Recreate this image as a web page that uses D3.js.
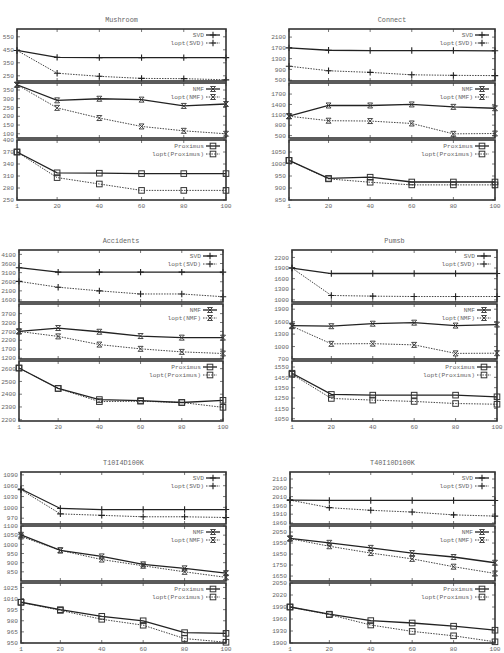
<!DOCTYPE html>
<html>
<head>
<meta charset="utf-8">
<script src="https://cdn.jsdelivr.net/npm/d3@7"></script>
<style>
body { margin: 0; background: #fff; }
text { font-family: "Liberation Mono", "DejaVu Sans Mono", monospace; font-size: 6.2px; fill: #666; }
</style>
</head>
<body>
<div id="chart"></div>
<script>
var svgWidth = 504;
var svgHeight = 653;

// x positions shared by every plot
var xValues = [1, 20, 40, 60, 80, 100];

// Mushroom
var mushroomSvd = [445, 392, 390, 390, 390, 390];
var mushroomSvdOpt = [445, 270, 246, 230, 228, 219];
var mushroomNmf = [380, 291, 300, 295, 259, 270];
var mushroomNmfOpt = [380, 248, 190, 142, 117, 100];
var mushroomProx = [370, 318, 317, 316, 316, 316];
var mushroomProxOpt = [370, 306, 290, 274, 274, 274];
var mushroomTicks = [[250, 350, 450, 550], [100, 150, 200, 250, 300, 350], [250, 280, 310, 340, 370, 400]];
var mushroomRanges = [[210, 610], [76, 390], [250, 400]];

// Connect
var connectSvd = [1700, 1612, 1600, 1600, 1600, 1590];
var connectSvdOpt = [1020, 850, 790, 700, 680, 670];
var connectNmf = [1060, 1370, 1370, 1400, 1330, 1290];
var connectNmfOpt = [1060, 930, 920, 850, 550, 560];
var connectProx = [1015, 940, 945, 925, 925, 925];
var connectProxOpt = [1015, 938, 924, 913, 913, 913];
var connectTicks = [[500, 900, 1300, 1700, 2100], [500, 800, 1100, 1400, 1700], [850, 900, 950, 1000, 1050]];
var connectRanges = [[470, 2400], [430, 2020], [850, 1100]];

// Accidents
var accidentsSvd = [3370, 3130, 3130, 3130, 3130, 3130];
var accidentsSvdOpt = [2620, 2300, 2100, 1930, 1930, 1780];
var accidentsNmf = [2700, 2890, 2680, 2440, 2350, 2350];
var accidentsNmfOpt = [2700, 2420, 1960, 1720, 1550, 1460];
var accidentsProx = [2605, 2445, 2358, 2350, 2335, 2352];
var accidentsProxOpt = [2605, 2445, 2342, 2345, 2335, 2297];
var accidentsTicks = [[1600, 2100, 2600, 3100, 3600, 4100], [1200, 1700, 2200, 2700, 3200, 3700], [2200, 2300, 2400, 2500, 2600]];
var accidentsRanges = [[1490, 4340], [1150, 4240], [2190, 2660]];

// Pumsb
var pumsbSvd = [1900, 1745, 1745, 1745, 1745, 1745];
var pumsbSvdOpt = [1900, 1125, 1105, 1095, 1095, 1095];
var pumsbNmf = [1505, 1490, 1550, 1575, 1505, 1530];
var pumsbNmfOpt = [1490, 1065, 1070, 1040, 835, 840];
var pumsbProx = [1490, 1285, 1278, 1278, 1278, 1262];
var pumsbProxOpt = [1480, 1246, 1230, 1217, 1197, 1190];
var pumsbTicks = [[1000, 1300, 1600, 1900, 2200], [700, 1000, 1300, 1600, 1900], [1050, 1150, 1250, 1350, 1450, 1550]];
var pumsbRanges = [[940, 2410], [700, 2025], [1028, 1608]];

// T10I4D100K
var t10Svd = [1051, 997, 994, 994, 994, 994];
var t10SvdOpt = [1049, 982, 978, 974, 974, 972];
var t10Nmf = [1052, 967, 934, 891, 869, 843];
var t10NmfOpt = [1043, 967, 917, 883, 850, 820];
var t10Prox = [1005, 995, 986, 980, 964, 963];
var t10ProxOpt = [1005, 994, 982, 974, 956, 951];
var t10Ticks = [[970, 1000, 1030, 1060, 1090], [850, 900, 950, 1000, 1050, 1100], [950, 965, 980, 995, 1010, 1025]];
var t10Ranges = [[954, 1098], [800, 1100], [950, 1031]];

// T40I10D100K
var t40Svd = [1990, 1988, 1988, 1988, 1988, 1988];
var t40SvdOpt = [1990, 1947, 1932, 1922, 1906, 1899];
var t40Nmf = [1992, 1952, 1906, 1859, 1823, 1771];
var t40NmfOpt = [1990, 1921, 1859, 1806, 1735, 1674];
var t40Prox = [1990, 1972, 1956, 1950, 1942, 1932];
var t40ProxOpt = [1990, 1971, 1945, 1929, 1918, 1903];
var t40Ticks = [[1860, 1910, 1960, 2010, 2060, 2110], [1650, 1750, 1850, 1950, 2050], [1900, 1930, 1960, 1990, 2020, 2050]];
var t40Ranges = [[1854, 2150], [1605, 2105], [1900, 2050]];

var methods = [["SVD", "lopt(SVD)", "plus"], ["NMF", "lopt(NMF)", "cross"], ["Proximus", "lopt(Proximus)", "square"]];

var panels = [
    { title: "Mushroom", left: 17, right: 226, top: 29, series: [mushroomSvd, mushroomSvdOpt, mushroomNmf, mushroomNmfOpt, mushroomProx, mushroomProxOpt], ticks: mushroomTicks, ranges: mushroomRanges },
    { title: "Connect", left: 289, right: 495, top: 29, series: [connectSvd, connectSvdOpt, connectNmf, connectNmfOpt, connectProx, connectProxOpt], ticks: connectTicks, ranges: connectRanges },
    { title: "Accidents", left: 19, right: 223, top: 250, series: [accidentsSvd, accidentsSvdOpt, accidentsNmf, accidentsNmfOpt, accidentsProx, accidentsProxOpt], ticks: accidentsTicks, ranges: accidentsRanges },
    { title: "Pumsb", left: 292, right: 497, top: 250, series: [pumsbSvd, pumsbSvdOpt, pumsbNmf, pumsbNmfOpt, pumsbProx, pumsbProxOpt], ticks: pumsbTicks, ranges: pumsbRanges },
    { title: "T10I4D100K", left: 21, right: 226, top: 472, series: [t10Svd, t10SvdOpt, t10Nmf, t10NmfOpt, t10Prox, t10ProxOpt], ticks: t10Ticks, ranges: t10Ranges },
    { title: "T40I10D100K", left: 290, right: 495, top: 472, series: [t40Svd, t40SvdOpt, t40Nmf, t40NmfOpt, t40Prox, t40ProxOpt], ticks: t40Ticks, ranges: t40Ranges }
];

// vertical extent of the three stacked plots, relative to panel top
var bands = [[0, 52], [54, 109], [111, 171]];

var svg = d3.select("#chart")
    .append("svg")
    .attr("width", svgWidth)
    .attr("height", svgHeight);

function drawMarker(g, type, x, y) {
    if (type === "square") {
        g.append("rect")
            .attr("x", x - 2.8).attr("y", y - 2.8)
            .attr("width", 5.6).attr("height", 5.6)
            .attr("fill", "none").attr("stroke", "#333").attr("stroke-width", 1);
    } else if (type === "cross") {
        g.append("path")
            .attr("d", `M${x - 2.5},${y - 2.5}L${x + 2.5},${y + 2.5}M${x - 2.5},${y + 2.5}L${x + 2.5},${y - 2.5}M${x - 2.5},${y - 2.5}H${x + 2.5}M${x - 2.5},${y + 2.5}H${x + 2.5}`)
            .attr("fill", "none").attr("stroke", "#333").attr("stroke-width", 0.9);
    } else {
        g.append("path")
            .attr("d", `M${x - 3.2},${y}H${x + 3.2}M${x},${y - 3.2}V${y + 3.2}`)
            .attr("fill", "none").attr("stroke", "#222").attr("stroke-width", 1.1);
    }
}

panels.forEach(function(p) {
    var g = svg.append("g");
    var xScale = d3.scaleLinear().domain([1, 100]).range([p.left, p.right]);

    g.append("text")
        .attr("x", (p.left + p.right) / 2)
        .attr("y", p.top - 7)
        .attr("text-anchor", "middle")
        .style("font-size", "6.8px")
        .text(p.title);

    bands.forEach(function(b, i) {
        var y0 = p.top + b[0], y1 = p.top + b[1];
        var yScale = d3.scaleLinear().domain(p.ranges[i]).range([y1, y0]);
        var sub = g.append("g");

        // y tick labels on the left
        sub.selectAll(".ylab")
            .data(p.ticks[i])
            .enter()
            .append("text")
            .attr("x", p.left - 3)
            .attr("y", d => yScale(d))
            .attr("dy", "0.35em")
            .attr("text-anchor", "end")
            .text(d => d);

        // inward ticks on both sides
        sub.selectAll(".ytick")
            .data(p.ticks[i])
            .enter()
            .append("path")
            .attr("d", d => `M${p.left},${yScale(d)}h3M${p.right},${yScale(d)}h-3`)
            .attr("stroke", "#555").attr("stroke-width", 0.8);
        sub.selectAll(".xtick")
            .data(xValues)
            .enter()
            .append("path")
            .attr("d", d => `M${xScale(d)},${y1}v-3M${xScale(d)},${y0}v3`)
            .attr("stroke", "#555").attr("stroke-width", 0.8);

        var line = d3.line()
            .x((d, k) => xScale(xValues[k]))
            .y(d => yScale(d));

        var main = p.series[i * 2], opt = p.series[i * 2 + 1];
        var marker = methods[i][2];

        sub.append("path")
            .datum(opt)
            .attr("d", line)
            .attr("fill", "none")
            .attr("stroke", "#444")
            .attr("stroke-width", 1)
            .attr("stroke-dasharray", "1.5,1.2");
        sub.append("path")
            .datum(main)
            .attr("d", line)
            .attr("fill", "none")
            .attr("stroke", "#222")
            .attr("stroke-width", 1.3);

        opt.forEach(function(v, k) { drawMarker(sub, marker, xScale(xValues[k]), yScale(v)); });
        main.forEach(function(v, k) { drawMarker(sub, marker, xScale(xValues[k]), yScale(v)); });

        // legend, top right
        [0, 1].forEach(function(j) {
            var ly = y0 + 6 + j * 8;
            sub.append("text")
                .attr("x", p.right - 22)
                .attr("y", ly)
                .attr("dy", "0.35em")
                .attr("text-anchor", "end")
                .text(methods[i][j]);
            sub.append("path")
                .attr("d", `M${p.right - 20},${ly}H${p.right - 6}`)
                .attr("fill", "none")
                .attr("stroke", j === 0 ? "#222" : "#444")
                .attr("stroke-width", j === 0 ? 1.3 : 1)
                .attr("stroke-dasharray", j === 0 ? null : "1.5,1.2");
            drawMarker(sub, marker, p.right - 13, ly);
        });

        // frame
        sub.append("rect")
            .attr("x", p.left).attr("y", y0)
            .attr("width", p.right - p.left).attr("height", y1 - y0)
            .attr("fill", "none")
            .attr("stroke", "#333")
            .attr("stroke-width", 1.6);

        // x labels only under the last plot
        if (i === 2) {
            sub.selectAll(".xlab")
                .data(xValues)
                .enter()
                .append("text")
                .attr("x", d => xScale(d))
                .attr("y", y1 + 8)
                .attr("text-anchor", "middle")
                .text(d => d);
        }
    });
});
</script>
</body>
</html>
